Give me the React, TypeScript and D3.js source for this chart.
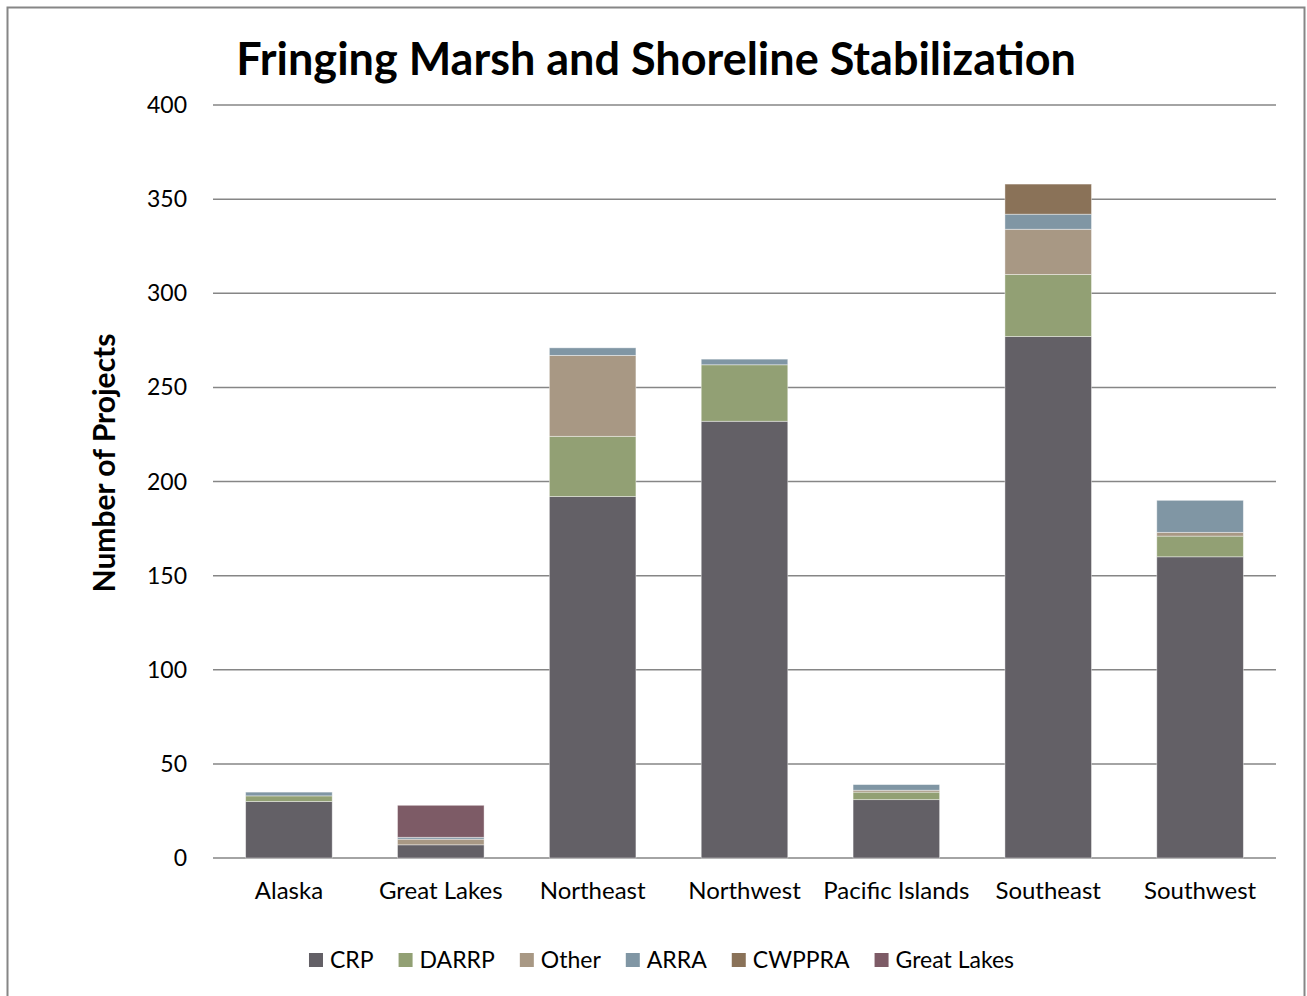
import * as d3 from "d3";
import { useRef, useEffect } from "react";

// regions along the x axis
const regions = ["Alaska", "Great Lakes", "Northeast", "Northwest", "Pacific Islands", "Southeast", "Southwest"];

// project counts per funding program, one value per region
const crp = [30, 7, 192, 232, 31, 277, 160];
const darrp = [3, 0, 32, 30, 4, 33, 11];
const other = [0, 3, 43, 0, 1, 24, 2];
const arra = [2, 1, 4, 3, 3, 8, 17];
const cwppra = [0, 0, 0, 0, 0, 16, 0];
const greatLakes = [0, 17, 0, 0, 0, 0, 0];

const seriesNames = ["CRP", "DARRP", "Other", "ARRA", "CWPPRA", "Great Lakes"];
const seriesValues = [crp, darrp, other, arra, cwppra, greatLakes];
const colors = ["#636066", "#92a074", "#a89884", "#8096a4", "#8a7258", "#7d5b66"];

const yTicks = [0, 50, 100, 150, 200, 250, 300, 350, 400];

const FONT = "Lato, 'Open Sans', sans-serif";

export default function App() {
    const svgRef = useRef<SVGSVGElement>(null);

    useEffect(() => {
        const svg = d3.select(svgRef.current);
        svg.selectAll("*").remove();

        const margin = { top: 105, left: 213, right: 1276, bottom: 858 };

        // outer frame
        svg.append("rect")
            .attr("x", 7.5).attr("y", 7.5)
            .attr("width", 1297).attr("height", 1000)
            .attr("fill", "white")
            .attr("stroke", "#868686")
            .attr("stroke-width", 2);

        // title
        svg.append("text")
            .attr("x", 656).attr("y", 75)
            .attr("text-anchor", "middle")
            .style("font-family", FONT)
            .style("font-size", "45px")
            .style("font-weight", "bold")
            .text("Fringing Marsh and Shoreline Stabilization");

        const x = d3.scaleBand<string>()
            .domain(regions)
            .range([margin.left, margin.right])
            .paddingInner(0.43)
            .paddingOuter(0.215);

        const y = d3.scaleLinear()
            .domain([0, 400])
            .range([margin.bottom, margin.top]);

        // gridlines
        svg.append("g")
            .selectAll("line")
            .data(yTicks)
            .enter()
            .append("line")
            .attr("x1", margin.left).attr("x2", margin.right)
            .attr("y1", d => y(d)).attr("y2", d => y(d))
            .attr("stroke", "#868686")
            .attr("stroke-width", 1.5);

        // y tick labels
        svg.append("g")
            .selectAll("text")
            .data(yTicks)
            .enter()
            .append("text")
            .attr("x", 187)
            .attr("y", d => y(d))
            .attr("dy", "0.35em")
            .attr("text-anchor", "end")
            .style("font-family", FONT)
            .style("font-size", "23px")
            .text(d => d);

        // stacked data
        const rows = regions.map((r, i) => {
            const row: any = { region: r };
            seriesNames.forEach((s, j) => { row[s] = seriesValues[j][i]; });
            return row;
        });
        const stacked = d3.stack().keys(seriesNames)(rows);

        svg.append("g")
            .selectAll("g")
            .data(stacked)
            .enter()
            .append("g")
            .attr("fill", (d, i) => colors[i])
            .selectAll("rect")
            .data(d => d.filter(s => s[1] - s[0] > 0))
            .enter()
            .append("rect")
            .attr("x", d => x((d as any).data.region)!)
            .attr("width", x.bandwidth())
            .attr("y", d => y(d[1]))
            .attr("height", d => y(d[0]) - y(d[1]))
            .attr("stroke", "rgba(255,255,255,0.5)")
            .attr("stroke-width", 0.8);

        // x labels
        svg.append("g")
            .selectAll("text")
            .data(regions)
            .enter()
            .append("text")
            .attr("x", d => x(d)! + x.bandwidth() / 2)
            .attr("y", 899)
            .attr("text-anchor", "middle")
            .style("font-family", FONT)
            .style("font-size", "24px")
            .text(d => d);

        // y axis title
        svg.append("text")
            .attr("transform", "translate(115,463) rotate(-90)")
            .attr("text-anchor", "middle")
            .style("font-family", FONT)
            .style("font-size", "30px")
            .style("font-weight", "bold")
            .text("Number of Projects");

        // legend
        const legend = svg.append("g");
        let lx = 0;
        seriesNames.forEach((s, i) => {
            const g = legend.append("g").attr("transform", `translate(${lx},0)`);
            g.append("rect")
                .attr("x", 0).attr("y", 953)
                .attr("width", 14).attr("height", 14)
                .attr("fill", colors[i]);
            const t = g.append("text")
                .attr("x", 21).attr("y", 968)
                .style("font-family", FONT)
                .style("font-size", "23px")
                .text(s);
            const w = (t.node() as SVGTextElement).getComputedTextLength();
            lx += 21 + w + 25;
        });
        const totalW = lx - 25;
        legend.attr("transform", `translate(${(301 + 1022) / 2 - totalW / 2},0)`);
    }, []);

    return (
        <div style={{ position: "absolute", left: 0, top: 0 }}>
            <svg ref={svgRef} width={1307} height={996} style={{ display: "block" }} />
        </div>
    );
}
